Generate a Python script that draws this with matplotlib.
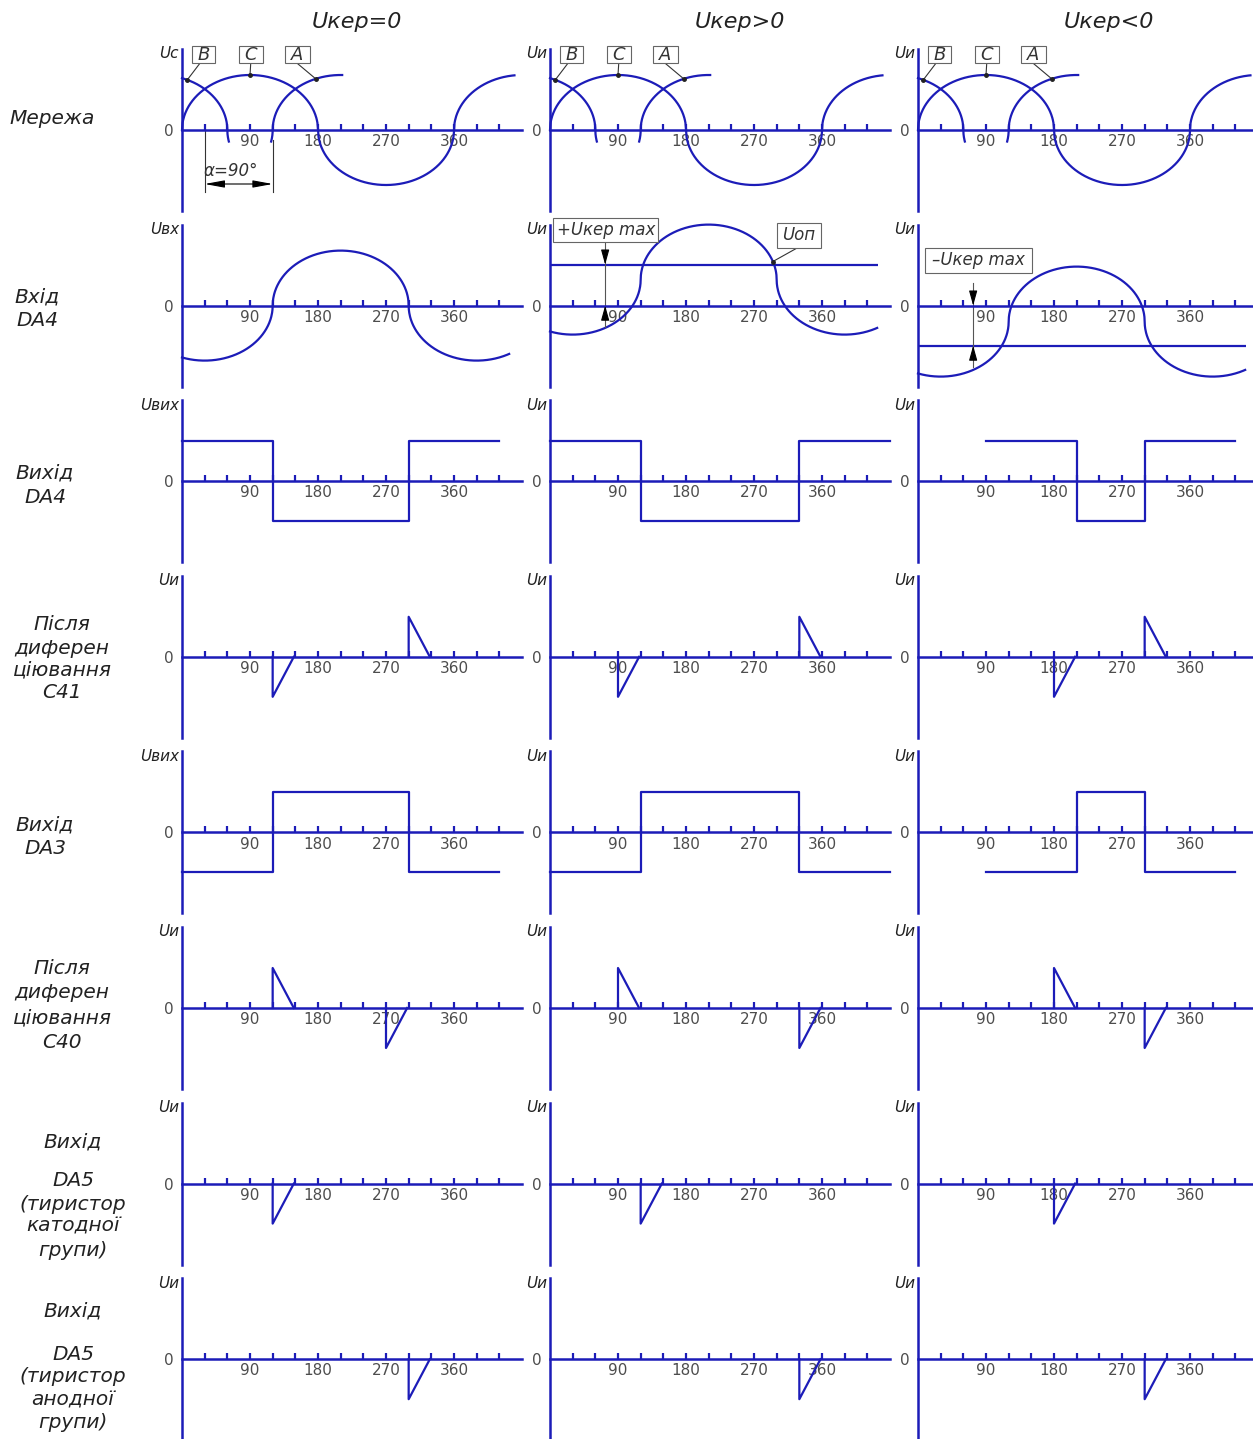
import numpy as np
import matplotlib.pyplot as plt
from matplotlib.patches import Rectangle

W, H = 1253, 1439
BLUE = '#1c1cb8'
GREY = '#4d4d4d'
INK = '#222222'

# --- layout (pixels of the sheet) ---
col_x0 = [182, 550, 918]                      # x of 0 deg in each column
row_y0 = [130 + 175.6 * i for i in range(8)]  # y of zero line in each row
deg_px = 68 / 90                              # pixels per degree
XMIN, XMAX = -25, 455
YMIN, YMAX = -86, 96

# --- texts ---
col_titles = ['Uкер=0', 'Uкер>0', 'Uкер<0']
col_title_x = [357, 740, 1109]

row_labels = [
    [('Мережа', 118)],
    [('Вхід', 297), ('DA4', 320)],
    [('Вихід', 473), ('DA4', 497)],
    [('Після', 625), ('диферен', 648), ('ціювання', 670), ('С41', 692)],
    [('Вихід', 825), ('DA3', 849)],
    [('Після', 968), ('диферен', 993), ('ціювання', 1018), ('С40', 1042)],
    [('Вихід', 1142), ('DA5', 1180), ('(тиристор', 1204), ('катодної', 1226), ('групи)', 1251)],
    [('Вихід', 1311), ('DA5', 1354), ('(тиристор', 1377), ('анодної', 1400), ('групи)', 1423)],
]
row_label_x = [52, 37, 45, 62, 45, 62, 73, 73]

y_names = [['Uс', 'Uи', 'Uи'], ['Uвх', 'Uи', 'Uи'], ['Uвих', 'Uи', 'Uи'],
           ['Uи', 'Uи', 'Uи'], ['Uвих', 'Uи', 'Uи'], ['Uи', 'Uи', 'Uи'],
           ['Uи', 'Uи', 'Uи'], ['Uи', 'Uи', 'Uи']]

tick_deg = list(range(30, 421, 30))
tick_lab = [90, 180, 270, 360]

# --- data ---
# mains phases: upward zero crossing, drawn from / to (deg)
phase_names = ['B', 'C', 'A']
phase_zero = [240, 0, 120]
phase_from = [0, 0, 118]
phase_to = [62, 440, 212]
mains_amp = 55

# input of DA4 per column: centre level and control level
da4_centre = [0, 26, -16]
ukep_level = [None, 41, -40]
da4_amp = 55
da4_zero = 120
da4_to = 433

# DA4 output switching angles per column (starts high); DA3 is inverted
da4_edges = [[0, 120, 300, 420], [0, 120, 330, 450], [90, 210, 300, 420]]
sq_amp = 40

# pulse start angles per column
c41_pos = [300, 330, 300]
c41_neg = [120, 90, 180]
c40_pos = [120, 90, 180]
c40_neg = [270, 330, 300]
da5_cath = [120, 120, 180]
da5_anod = [300, 330, 300]
pulse_w = 28
pulse_h = 40

LW = 1.6


def arc_wave(th, zero, amp, centre=0):
    # half waves drawn as half ellipses, as on the sheet
    ph = np.asarray(th, float) - zero
    k = np.floor(ph / 180)
    u = (ph - 180 * k - 90) / 90
    sgn = np.where(k % 2 == 0, 1, -1)
    return centre + amp * sgn * np.sqrt(np.clip(1 - u ** 2, 0, None))


def panel(r, c):
    x0 = col_x0[c] + XMIN * deg_px
    ax = fig.add_axes([x0 / W, (H - row_y0[r] + YMIN) / H,
                       (XMAX - XMIN) * deg_px / W, (YMAX - YMIN) / H])
    ax.set_xlim(XMIN, XMAX)
    ax.set_ylim(YMIN, YMAX)
    ax.patch.set_visible(False)
    for s in ['top', 'right']:
        ax.spines[s].set_visible(False)
    for s in ['left', 'bottom']:
        ax.spines[s].set_position(('data', 0))
        ax.spines[s].set_color(BLUE)
        ax.spines[s].set_linewidth(1.8)
    ax.spines['left'].set_bounds(-81, 81)
    ax.spines['bottom'].set_bounds(0, 450)
    ax.set_xticks(tick_deg, [str(t) if t in tick_lab else '' for t in tick_deg])
    ax.tick_params(axis='x', direction='in', length=4, width=1.6, color=BLUE,
                   labelcolor=GREY, labelsize=11, pad=3)
    ax.set_yticks([0], ['0'])
    ax.tick_params(axis='y', length=0, pad=6, labelcolor=GREY, labelsize=11)
    ax.text(-4, 76, y_names[r][c], ha='right', va='center', fontsize=11,
            style='italic', color=INK)
    return ax


def box(ax, cx, cy, wpx, hpx, txt, size=12):
    w = wpx / deg_px
    ax.add_patch(Rectangle((cx - w / 2, cy - hpx / 2), w, hpx, fc='white',
                           ec='#666666', lw=0.8, zorder=4, clip_on=False))
    ax.text(cx, cy, txt, ha='center', va='center', fontsize=size,
            style='italic', color='#333333', zorder=5)


def leader(ax, p0, p1):
    ax.plot([p0[0], p1[0]], [p0[1], p1[1]], color='#333333', lw=0.8, zorder=3)
    ax.plot(p1[0], p1[1], 'o', color='#222222', ms=2.5, zorder=3)


def arrow(ax, tip, tail):
    ax.annotate('', xy=tip, xytext=tail,
                arrowprops=dict(arrowstyle='-|>,head_length=0.9,head_width=0.25',
                                color='black', lw=0.8, shrinkA=0, shrinkB=0,
                                mutation_scale=10))


def square(ax, edges, first):
    xs, ys = [edges[0]], [first * sq_amp]
    lev = first
    for e in edges[1:-1]:
        xs += [e, e]
        ys += [lev * sq_amp, -lev * sq_amp]
        lev = -lev
    xs.append(edges[-1])
    ys.append(lev * sq_amp)
    ax.plot(xs, ys, color=BLUE, lw=LW)


def pulse(ax, start, sign):
    ax.plot([start, start, start + pulse_w], [0, sign * pulse_h, 0], color=BLUE, lw=LW)


fig = plt.figure(figsize=(W / 100, H / 100), dpi=100)

for c in range(3):
    fig.text(col_title_x[c] / W, 1 - 22 / H, col_titles[c], ha='center', va='center',
             fontsize=16, style='italic', color=INK)

for r in range(8):
    for txt, y in row_labels[r]:
        fig.text(row_label_x[r] / W, 1 - y / H, txt, ha='center', va='center',
                 fontsize=14.5, style='italic', color=INK)

for c in range(3):
    # row 1: mains
    ax = panel(0, c)
    for name, z, a, b in zip(phase_names, phase_zero, phase_from, phase_to):
        th = np.linspace(a, b, 600)
        ax.plot(th, arc_wave(th, z, mains_amp), color=BLUE, lw=LW)
    box(ax, 28.5, 75.5, 23, 17, 'B', 13)
    box(ax, 91, 75.5, 24, 17, 'C', 13)
    box(ax, 153, 75.5, 25, 17, 'A', 13)
    leader(ax, (24, 67), (7, arc_wave(7, phase_zero[0], mains_amp)))
    leader(ax, (91, 67), (90, arc_wave(90, phase_zero[1], mains_amp)))
    leader(ax, (152, 67), (177, arc_wave(177, phase_zero[2], mains_amp)))
    if c == 0:
        ax.plot([30, 30], [0, -62], color='#333333', lw=0.8)
        ax.plot([120, 120], [-10, -62], color='#333333', lw=0.8)
        ax.annotate('', xy=(30, -54), xytext=(120, -54),
                    arrowprops=dict(arrowstyle='<|-|>,head_length=1.2,head_width=0.22',
                                    color='black', lw=0.8, shrinkA=0, shrinkB=0,
                                    mutation_scale=10))
        ax.text(65, -41, 'α=90°', ha='center', va='center', fontsize=12,
                style='italic', color='#333333')

    # row 2: input of DA4
    ax = panel(1, c)
    th = np.linspace(0, da4_to, 800)
    ax.plot(th, arc_wave(th, da4_zero, da4_amp, da4_centre[c]), color=BLUE, lw=LW)
    lev = ukep_level[c]
    if lev is not None:
        ax.hlines(lev, 0, 434, color=BLUE, lw=LW)
        ax.plot([73, 73], [max(lev, 0) + 23, min(lev, 0) - 21], color='#555555', lw=0.8)
        arrow(ax, (73, max(lev, 0)), (73, max(lev, 0) + 12))
        arrow(ax, (73, min(lev, 0)), (73, min(lev, 0) - 12))
    if c == 1:
        box(ax, 74, 76, 105, 24, '+Uкер max')
        box(ax, 329, 70.5, 44, 25, 'Uоп')
        leader(ax, (328, 58), (295, arc_wave(295, da4_zero, da4_amp, da4_centre[c])))
    if c == 2:
        box(ax, 80, 45.5, 107, 25, '–Uкер max')

    # rows 3 and 5: comparators
    square(panel(2, c), da4_edges[c], 1)
    square(panel(4, c), da4_edges[c], -1)

    # rows 4, 6, 7, 8: pulses
    ax = panel(3, c)
    pulse(ax, c41_pos[c], 1)
    pulse(ax, c41_neg[c], -1)
    ax = panel(5, c)
    pulse(ax, c40_pos[c], 1)
    pulse(ax, c40_neg[c], -1)
    pulse(panel(6, c), da5_cath[c], -1)
    pulse(panel(7, c), da5_anod[c], -1)

fig.savefig('out.png', dpi=100, facecolor='white')
